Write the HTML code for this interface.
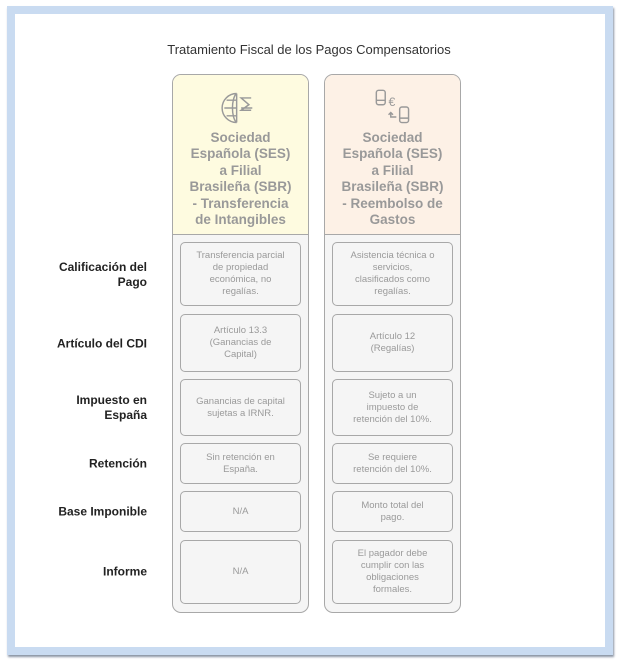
<!DOCTYPE html>
<html><head><meta charset="utf-8"><style>
body{margin:0;width:618px;height:666px;background:#fff;position:relative;font-family:"Liberation Sans",sans-serif;overflow:hidden}
.frame{position:absolute;left:7px;top:6px;width:590px;height:633px;border:8px solid #c9dbf1;background:#fff;box-shadow:1px 2px 2px #8a94a4}
.title{position:absolute;left:0;width:618px;top:42px;text-align:center;font-size:13px;color:#333}
.col{position:absolute;top:74px;width:135px;height:537px;border:1.5px solid #a8a8a8;border-radius:9px;background:#f5f5f5;overflow:hidden}
.hd{position:absolute;left:0;top:0;width:135px;height:159px;border-bottom:1.5px solid #a8a8a8}
.hd .t{position:absolute;top:55px;width:135px;text-align:center;font-weight:bold;font-size:13.5px;line-height:16.4px;color:#999}
.cell{position:absolute;left:7px;width:119px;border:1.5px solid #a8a8a8;border-radius:5px;background:#f5f5f5}
.cell span{position:absolute;left:0;right:0;top:50%;transform:translateY(-50%);text-align:center;font-size:9.5px;line-height:12px;color:#9a9a9a}
.lab{position:absolute;right:471px;width:120px;text-align:right;font-weight:bold;font-size:12px;line-height:15px;color:#222;transform:translateY(-50%)}
</style></head><body>
<div class="frame"></div>
<div class="title">Tratamiento Fiscal de los Pagos Compensatorios</div>

<div class="col" style="left:172px">
 <div class="hd" style="background:#fefbe0">
  <svg style="position:absolute;left:48px;top:14px" width="38" height="38" viewBox="0 0 34 34" fill="none" stroke="#999" stroke-width="1.3"><path d="M14 4a13 13 0 0 0 0 26M14 4c-5 4-5 22 0 26M3 17h11M5 10h9M5 24h9M14 4v26"/><path d="M27 8h-9l7 6-7 5h9M18 17h10"/></svg>
  <div class="t">Sociedad<br>Española (SES)<br>a Filial<br>Brasileña (SBR)<br>- Transferencia<br>de Intangibles</div>
 </div>
 <div class="cell" style="top:167px;height:62px"><span>Transferencia parcial<br>de propiedad<br>económica, no<br>regalías.</span></div>
 <div class="cell" style="top:239px;height:56px"><span>Artículo 13.3<br>(Ganancias de<br>Capital)</span></div>
 <div class="cell" style="top:304px;height:55px"><span>Ganancias de capital<br>sujetas a IRNR.</span></div>
 <div class="cell" style="top:368px;height:39px"><span>Sin retención en<br>España.</span></div>
 <div class="cell" style="top:416px;height:39px"><span>N/A</span></div>
 <div class="cell" style="top:465px;height:62px"><span>N/A</span></div>
</div>

<div class="col" style="left:324px">
 <div class="hd" style="background:#fdf1e6">
  <svg style="position:absolute;left:48px;top:12px" width="40" height="40" viewBox="0 0 36 36" fill="none" stroke="#999" stroke-width="1.3"><rect x="3" y="3" width="8" height="13" rx="2"/><path d="M3 12h8"/><rect x="24" y="18" width="8" height="14" rx="2"/><path d="M24 28h8"/><text x="14" y="17" font-size="11" fill="#999" stroke="none" font-family="Liberation Sans">€</text><path d="M21 27h-5v-4M14 25l2-2 2 2"/></svg>
  <div class="t">Sociedad<br>Española (SES)<br>a Filial<br>Brasileña (SBR)<br>- Reembolso de<br>Gastos</div>
 </div>
 <div class="cell" style="top:167px;height:62px"><span>Asistencia técnica o<br>servicios,<br>clasificados como<br>regalías.</span></div>
 <div class="cell" style="top:239px;height:56px"><span>Artículo 12<br>(Regalías)</span></div>
 <div class="cell" style="top:304px;height:55px"><span>Sujeto a un<br>impuesto de<br>retención del 10%.</span></div>
 <div class="cell" style="top:368px;height:39px"><span>Se requiere<br>retención del 10%.</span></div>
 <div class="cell" style="top:416px;height:39px"><span>Monto total del<br>pago.</span></div>
 <div class="cell" style="top:465px;height:62px"><span>El pagador debe<br>cumplir con las<br>obligaciones<br>formales.</span></div>
</div>

<div class="lab" style="top:275px">Calificación del<br>Pago</div>
<div class="lab" style="top:344px">Artículo del CDI</div>
<div class="lab" style="top:408px">Impuesto en<br>España</div>
<div class="lab" style="top:464px">Retención</div>
<div class="lab" style="top:512px">Base Imponible</div>
<div class="lab" style="top:572px">Informe</div>
</body></html>
